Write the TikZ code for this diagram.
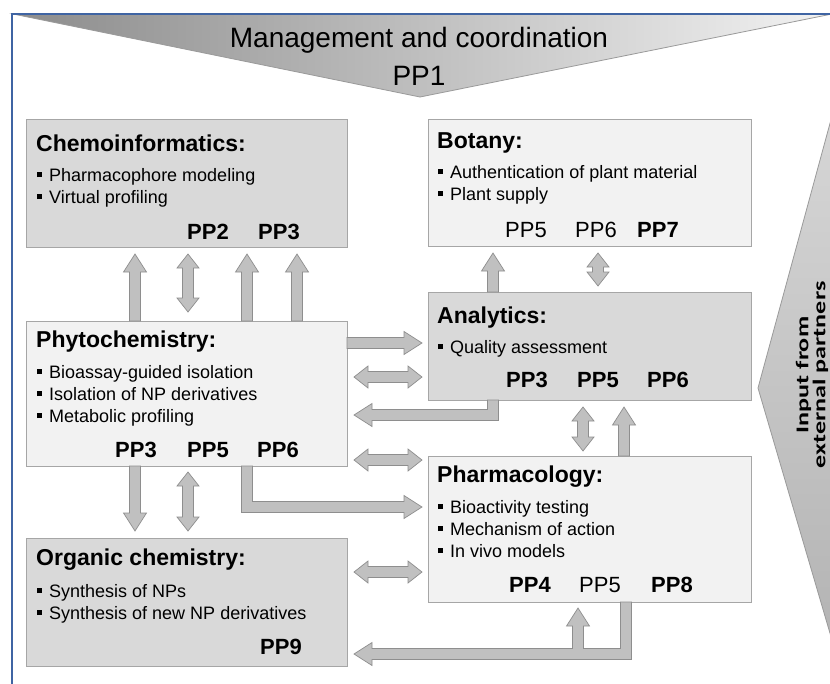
\documentclass[tikz,border=0pt]{standalone}
\usepackage{fontspec}
\setmainfont{Liberation Sans}
\newfontfamily\titlefont{Liberation Sans}
\newfontfamily\extfont[FakeStretch=1.45, BoldFeatures={FakeStretch=1.45}]{Carlito}
\usetikzlibrary{calc}
\definecolor{frameblue}{HTML}{3F64A3}
\definecolor{boxdark}{HTML}{D9D9D9}
\definecolor{boxlight}{HTML}{F2F2F2}
\definecolor{boxline}{HTML}{A6A6A6}
\definecolor{arrfill}{HTML}{C0C0C0}
\definecolor{arrline}{HTML}{8E8E8E}
\definecolor{bannerL}{HTML}{8C8C8C}
\definecolor{bannerR}{HTML}{F2F2F2}
\definecolor{trilineC}{HTML}{9A9A9A}
\definecolor{sideT}{HTML}{D6D6D6}
\definecolor{sideB}{HTML}{B4B4B4}
\newcommand\sqb{\rule[4pt]{5pt}{5pt}\hspace{7pt}}
\newcommand\sarr[2]{%
  \path (#1) coordinate (aT) (#2) coordinate (aH);
  \path ($(aH)!18pt!(aT)$) coordinate (aN);
  \draw[arr] ($(aT)!5.5pt!90:(aH)$) -- ($(aN)!5.5pt!90:(aH)$) -- ($(aN)!11.5pt!90:(aH)$) -- (aH)
    -- ($(aN)!11.5pt!-90:(aH)$) -- ($(aN)!5.5pt!-90:(aH)$) -- ($(aT)!5.5pt!-90:(aH)$) -- cycle;}
\newcommand\darr[2]{%
  \path (#1) coordinate (aT) (#2) coordinate (aH);
  \path ($(aT)!14pt!(aH)$) coordinate (aM) ($(aH)!14pt!(aT)$) coordinate (aN);
  \draw[arr] (aT) -- ($(aM)!11pt!90:(aH)$) -- ($(aM)!5.5pt!90:(aH)$) -- ($(aN)!5.5pt!90:(aH)$)
    -- ($(aN)!11pt!90:(aH)$) -- (aH) -- ($(aN)!11pt!-90:(aH)$) -- ($(aN)!5.5pt!-90:(aH)$)
    -- ($(aM)!5.5pt!-90:(aH)$) -- ($(aM)!11pt!-90:(aH)$) -- cycle;}
\begin{document}
\begin{tikzpicture}[x=1pt,y=-1pt,
  box/.style={draw=boxline, line width=1pt, inner sep=0pt, outer sep=0pt, anchor=north west},
  boxd/.style={box, fill=boxdark},
  boxl/.style={box, fill=boxlight},
  ttl/.style={font=\bfseries\fontsize{23}{27}\selectfont, anchor=base west, inner sep=0pt},
  itm/.style={font=\fontsize{18}{21}\selectfont, anchor=base west, inner sep=0pt},
  ppb/.style={font=\bfseries\fontsize{22}{26}\selectfont, anchor=base west, inner sep=0pt},
  ppr/.style={font=\fontsize{22}{26}\selectfont, anchor=base west, inner sep=0pt},
  arr/.style={fill=arrfill, draw=arrline, line width=0.7pt, line join=miter},
  big/.style={font=\titlefont\fontsize{28}{32}\selectfont, anchor=base, inner sep=0pt}]
\useasboundingbox (0,0) rectangle (830,683);
\fill[white] (0,0) rectangle (830,683);
% banner
\shade[left color=bannerL, right color=bannerR, draw=trilineC, line width=0.8pt]
  (13,14) -- (832,14) -- (420,97) -- cycle;
\node[big] (mgmt) at (419,47) {Management and coordination};
\node[big] (pp1) at (419,85) {PP1};
% side triangle
\shade[top color=sideT, bottom color=sideB, draw=trilineC, line width=0.8pt]
  (832,116) -- (758,388) -- (832,640) -- cycle;
\node[font=\extfont\bfseries\fontsize{18}{17}\selectfont, align=center, rotate=90, inner sep=0pt]
  (ext) at (812,375) {Input from\\external partners};
% frame
\draw[frameblue, line width=2.6pt] (12,684) -- (12,14) -- (831,14);
% boxes
\node[boxd, minimum width=321pt, minimum height=128pt] (chemo) at (26,119) {};
\node[boxl, minimum width=323pt, minimum height=127pt] (bot) at (428,119) {};
\node[boxl, minimum width=321pt, minimum height=145pt] (phyto) at (26,321) {};
\node[boxd, minimum width=323pt, minimum height=108pt] (ana) at (428,292) {};
\node[boxl, minimum width=323pt, minimum height=146pt] (pharma) at (428,456) {};
\node[boxd, minimum width=321pt, minimum height=128pt] (org) at (26,538) {};
% chemoinformatics
\node[ttl] (chemoT) at (36,151) {Chemoinformatics:};
\node[itm] (chemoA) at (37,181) {\sqb Pharmacophore modeling};
\node[itm] (chemoB) at (37,203) {\sqb Virtual profiling};
\node[ppb] (chemoP2) at (187,239) {PP2};
\node[ppb] (chemoP3) at (258,239) {PP3};
% botany
\node[ttl] (botT) at (437,148) {Botany:};
\node[itm] (botA) at (438,178) {\sqb Authentication of plant material};
\node[itm] (botB) at (438,200) {\sqb Plant supply};
\node[ppr] (botP5) at (505,237) {PP5};
\node[ppr] (botP6) at (575,237) {PP6};
\node[ppb] (botP7) at (637,237) {PP7};
% phytochemistry
\node[ttl] (phyT) at (36,347) {Phytochemistry:};
\node[itm] (phyA) at (37,378) {\sqb Bioassay-guided isolation};
\node[itm] (phyB) at (37,400) {\sqb Isolation of NP derivatives};
\node[itm] (phyC) at (37,422) {\sqb Metabolic profiling};
\node[ppb] (phyP3) at (115,457) {PP3};
\node[ppb] (phyP5) at (187,457) {PP5};
\node[ppb] (phyP6) at (257,457) {PP6};
% analytics
\node[ttl] (anaT) at (437,323) {Analytics:};
\node[itm] (anaA) at (438,353) {\sqb Quality assessment};
\node[ppb] (anaP3) at (506,387) {PP3};
\node[ppb] (anaP5) at (577,387) {PP5};
\node[ppb] (anaP6) at (647,387) {PP6};
% pharmacology
\node[ttl] (phaT) at (437,482) {Pharmacology:};
\node[itm] (phaA) at (438,513) {\sqb Bioactivity testing};
\node[itm] (phaB) at (438,535) {\sqb Mechanism of action};
\node[itm] (phaC) at (438,557) {\sqb In vivo models};
\node[ppb] (phaP4) at (509,592) {PP4};
\node[ppr] (phaP5) at (579,592) {PP5};
\node[ppb] (phaP8) at (651,592) {PP8};
% organic chemistry
\node[ttl] (orgT) at (36,565) {Organic chemistry:};
\node[itm] (orgA) at (37,597) {\sqb Synthesis of NPs};
\node[itm] (orgB) at (37,619) {\sqb Synthesis of new NP derivatives};
\node[ppb] (orgP9) at (260,654) {PP9};
% arrows phyto <-> chemo
\sarr{135,0 |- phyto.north}{135,254}
\darr{188,312}{188,254}
\sarr{247,0 |- phyto.north}{247,254}
\sarr{297,0 |- phyto.north}{297,254}
% analytics <-> botany
\sarr{493,0 |- ana.north}{493,253}
\darr{598,286}{598,253}
% phyto <-> analytics
\sarr{phyto.east |- 0,343}{422,343}
\darr{354,377}{422,377}
\draw[arr] (487.5,0 |- ana.south) -- (487.5,409.5) -- (372,409.5) -- (372,403.5) -- (354,415)
  -- (372,426.5) -- (372,420.5) -- (498.5,420.5) -- (498.5,0 |- ana.south) -- cycle;
% phyto <-> pharmacology
\darr{354,460}{422,460}
\draw[arr] (241.5,0 |- phyto.south) -- (241.5,512.5) -- (404,512.5) -- (404,518.5) -- (422,507)
  -- (404,495.5) -- (404,501.5) -- (252.5,501.5) -- (252.5,0 |- phyto.south) -- cycle;
% organic <-> pharmacology
\darr{354,572}{422,572}
\draw[arr] (620.5,0 |- pharma.south) -- (620.5,648.5) -- (583.5,648.5) -- (583.5,626) -- (589.5,626)
  -- (578,608) -- (566.5,626) -- (572.5,626) -- (572.5,648.5) -- (372,648.5) -- (372,642.5)
  -- (354,654) -- (372,665.5) -- (372,659.5) -- (631.5,659.5) -- (631.5,0 |- pharma.south) -- cycle;
% phyto <-> organic
\sarr{135,0 |- phyto.south}{135,531}
\darr{188,472}{188,531}
% analytics <-> pharmacology
\darr{583,407}{583,451}
\sarr{624,0 |- pharma.north}{624,407}
\end{tikzpicture}
\end{document}
